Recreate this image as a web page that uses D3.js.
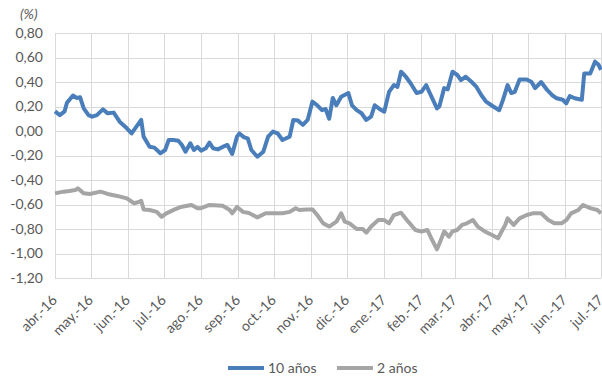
<!DOCTYPE html>
<html>
<head>
<meta charset="utf-8">
<script src="https://cdn.jsdelivr.net/npm/d3@7"></script>
<style>
  body { margin: 0; background: #fff; }
  svg text { font-family: Lato, "Open Sans", sans-serif; fill: #595959; }
</style>
</head>
<body>
<div id="vis"></div>
<script>
// month tick labels
const monthLabels = ["abr.-16","may.-16","jun.-16","jul.-16","ago.-16","sep.-16","oct.-16","nov.-16",
  "dic.-16","ene.-17","feb.-17","mar.-17","abr.-17","may.-17","jun.-17","jul.-17"];
const yTicks = [0.8, 0.6, 0.4, 0.2, 0, -0.2, -0.4, -0.6, -0.8, -1.0, -1.2];

// 10 años
const tenYearDates = ["2016-04-01","2016-04-05","2016-04-09","2016-04-11","2016-04-16","2016-04-19","2016-04-22","2016-04-25","2016-04-29",
  "2016-05-02","2016-05-06","2016-05-11","2016-05-15","2016-05-20","2016-05-25","2016-05-31","2016-06-04","2016-06-09","2016-06-12",
  "2016-06-14","2016-06-19","2016-06-23","2016-06-28","2016-07-02","2016-07-05","2016-07-09","2016-07-13","2016-07-16","2016-07-19",
  "2016-07-23","2016-07-26","2016-07-29","2016-08-01","2016-08-05","2016-08-08","2016-08-11","2016-08-15","2016-08-19","2016-08-23",
  "2016-08-27","2016-08-31","2016-09-02","2016-09-06","2016-09-09","2016-09-12","2016-09-17","2016-09-22","2016-09-26","2016-09-30",
  "2016-10-04","2016-10-08","2016-10-14","2016-10-17","2016-10-21","2016-10-22","2016-10-25","2016-10-29","2016-11-02","2016-11-06",
  "2016-11-10","2016-11-13","2016-11-16","2016-11-19","2016-11-22","2016-11-26","2016-12-02","2016-12-05","2016-12-09","2016-12-13",
  "2016-12-17","2016-12-21","2016-12-24","2016-12-28","2017-01-01","2017-01-05","2017-01-09","2017-01-12","2017-01-15","2017-01-19",
  "2017-01-23","2017-01-28","2017-02-01","2017-02-05","2017-02-08","2017-02-14","2017-02-16","2017-02-20","2017-02-23","2017-02-27",
  "2017-03-03","2017-03-06","2017-03-10","2017-03-15","2017-03-19","2017-03-23","2017-03-27","2017-04-02","2017-04-07","2017-04-10",
  "2017-04-14","2017-04-17","2017-04-20","2017-04-24","2017-04-30","2017-05-04","2017-05-07","2017-05-12","2017-05-17","2017-05-21",
  "2017-05-25","2017-05-30","2017-06-02","2017-06-05","2017-06-09","2017-06-15","2017-06-17","2017-06-22","2017-06-26","2017-06-29",
  "2017-07-01"];
const tenYearValues = [0.16,0.13,0.16,0.23,0.29,0.27,0.275,0.185,0.13,
  0.117,0.13,0.177,0.144,0.15,0.076,0.022,-0.02,0.05,0.09,
  -0.046,-0.128,-0.136,-0.182,-0.155,-0.073,-0.073,-0.08,-0.114,-0.169,
  -0.1,-0.155,-0.13,-0.16,-0.141,-0.095,-0.141,-0.15,-0.13,-0.114,
  -0.188,-0.046,-0.02,-0.052,-0.06,-0.155,-0.21,-0.169,-0.046,-0.005,
  -0.02,-0.073,-0.046,0.09,0.085,0.076,0.05,0.09,0.24,0.21,
  0.17,0.18,0.10,0.27,0.21,0.28,0.31,0.21,0.17,0.145,
  0.09,0.117,0.21,0.18,0.158,0.32,0.375,0.36,0.484,0.443,
  0.39,0.31,0.32,0.375,0.31,0.185,0.2,0.35,0.34,0.484,
  0.457,0.416,0.443,0.40,0.36,0.294,0.24,0.2,0.17,0.25,
  0.375,0.31,0.32,0.42,0.42,0.40,0.35,0.40,0.335,0.294,
  0.267,0.255,0.226,0.286,0.267,0.255,0.47,0.47,0.566,0.54,
  0.50];

// 2 años
const twoYearDates = ["2016-04-01","2016-04-08","2016-04-13","2016-04-18","2016-04-20","2016-04-25","2016-04-30","2016-05-09","2016-05-15",
  "2016-05-23","2016-05-31","2016-06-06","2016-06-10","2016-06-12","2016-06-14","2016-06-19","2016-06-25","2016-06-29","2016-07-03",
  "2016-07-10","2016-07-16","2016-07-24","2016-07-29","2016-08-01","2016-08-08","2016-08-19","2016-08-25","2016-08-27","2016-08-31",
  "2016-09-05","2016-09-10","2016-09-17","2016-09-24","2016-10-03","2016-10-08","2016-10-14","2016-10-19","2016-10-22","2016-10-28",
  "2016-11-02","2016-11-06","2016-11-11","2016-11-16","2016-11-22","2016-11-26","2016-11-29","2016-12-03","2016-12-09","2016-12-14",
  "2016-12-17","2016-12-21","2016-12-27","2017-01-01","2017-01-05","2017-01-09","2017-01-15","2017-01-21","2017-01-27","2017-02-01",
  "2017-02-06","2017-02-10","2017-02-14","2017-02-16","2017-02-20","2017-02-24","2017-02-27","2017-03-03","2017-03-07","2017-03-11",
  "2017-03-16","2017-03-20","2017-03-26","2017-04-01","2017-04-06","2017-04-09","2017-04-12","2017-04-14","2017-04-19","2017-04-24",
  "2017-04-30","2017-05-05","2017-05-12","2017-05-18","2017-05-23","2017-05-29","2017-06-02","2017-06-06","2017-06-12","2017-06-16",
  "2017-06-22","2017-06-28","2017-07-01"];
const twoYearValues = [-0.509,-0.495,-0.49,-0.482,-0.468,-0.509,-0.514,-0.495,-0.514,
  -0.53,-0.55,-0.59,-0.58,-0.57,-0.64,-0.645,-0.66,-0.70,-0.672,
  -0.64,-0.618,-0.604,-0.63,-0.63,-0.604,-0.61,-0.645,-0.672,-0.62,
  -0.66,-0.67,-0.705,-0.672,-0.672,-0.672,-0.66,-0.63,-0.645,-0.64,
  -0.64,-0.686,-0.754,-0.78,-0.74,-0.672,-0.74,-0.754,-0.80,-0.80,
  -0.83,-0.78,-0.727,-0.727,-0.754,-0.686,-0.667,-0.74,-0.808,-0.82,
  -0.808,-0.89,-0.966,-0.92,-0.82,-0.863,-0.82,-0.808,-0.767,-0.754,
  -0.727,-0.78,-0.82,-0.849,-0.876,-0.82,-0.767,-0.713,-0.767,-0.713,
  -0.686,-0.672,-0.672,-0.727,-0.754,-0.754,-0.727,-0.672,-0.645,-0.604,
  -0.63,-0.645,-0.672];

const seriesNames = ["10 años", "2 años"];
const seriesColors = ["#4a7ebb", "#a5a5a5"];

const W = 602, H = 381;
const margin = { top: 33, right: 1, bottom: 103, left: 55 };

const parse = d3.utcParse("%Y-%m-%d");
const locale = d3.formatLocale({ decimal: ",", thousands: ".", grouping: [3], currency: ["", "€"], minus: "-" });
const fmt = locale.format(".2f");

const svg = d3.select("#vis").append("svg")
    .attr("width", W)
    .attr("height", H);

const x = d3.scaleUtc()
    .domain([new Date(Date.UTC(2016, 3, 1)), new Date(Date.UTC(2017, 6, 1))])
    .range([margin.left, W - margin.right]);
const y = d3.scaleLinear()
    .domain([-1.2, 0.8])
    .range([H - margin.bottom, margin.top]);

const monthTicks = d3.utcMonth.range(new Date(Date.UTC(2016, 3, 1)), new Date(Date.UTC(2017, 6, 2)));

// gridlines
const grid = svg.append("g").attr("stroke", "#d9d9d9").attr("stroke-width", 1);
grid.selectAll("line.h")
    .data(yTicks)
    .join("line")
    .attr("class", "h")
    .attr("x1", margin.left).attr("x2", W - margin.right)
    .attr("y1", d => Math.round(y(d)) + 0.5).attr("y2", d => Math.round(y(d)) + 0.5);
grid.selectAll("line.v")
    .data(monthTicks)
    .join("line")
    .attr("class", "v")
    .attr("x1", d => Math.round(x(d)) + 0.5).attr("x2", d => Math.round(x(d)) + 0.5)
    .attr("y1", y(0.8)).attr("y2", y(-1.2));

// y axis labels
svg.append("g")
    .attr("transform", `translate(${margin.left - 12},0)`)
    .call(d3.axisLeft(y).tickValues(yTicks).tickFormat(fmt).tickSize(0).tickPadding(0))
    .call(g => g.select(".domain").remove())
    .call(g => g.selectAll("text").attr("font-size", 14).attr("fill", "#595959")
        .style("font-family", "Lato, sans-serif"));

// x axis labels
svg.append("g")
    .selectAll("text")
    .data(monthTicks)
    .join("text")
    .attr("transform", d => `translate(${x(d) + 3},${y(-1.2) + 23}) rotate(-45)`)
    .attr("text-anchor", "end")
    .attr("font-size", 14)
    .text((d, i) => monthLabels[i]);

// (%) label
svg.append("text")
    .attr("x", 20).attr("y", 19)
    .attr("font-size", 14)
    .attr("font-style", "italic")
    .text("(%)");

const line = d3.line()
    .x(d => x(d[0]))
    .y(d => y(d[1]));

const series = [
    tenYearDates.map((d, i) => [parse(d), tenYearValues[i]]),
    twoYearDates.map((d, i) => [parse(d), twoYearValues[i]])
];

svg.append("g")
    .selectAll("path")
    .data(series)
    .join("path")
    .attr("fill", "none")
    .attr("stroke", (d, i) => seriesColors[i])
    .attr("stroke-width", 4)
    .attr("stroke-linejoin", "round")
    .attr("d", line);

// legend
const legendX = [228, 337];
const legend = svg.append("g");
seriesNames.forEach((name, i) => {
    legend.append("line")
        .attr("x1", legendX[i]).attr("x2", legendX[i] + 36)
        .attr("y1", 368).attr("y2", 368)
        .attr("stroke", seriesColors[i])
        .attr("stroke-width", 4);
    legend.append("text")
        .attr("x", legendX[i] + 40).attr("y", 373)
        .attr("font-size", 14)
        .text(name);
});
</script>
</body>
</html>
